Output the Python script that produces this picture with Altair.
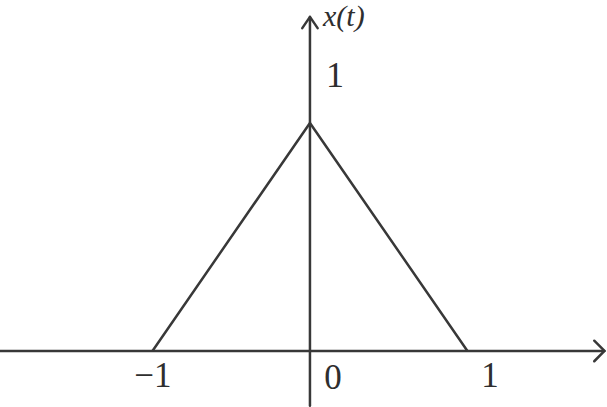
import altair as alt
import pandas as pd

# Triangle pulse x(t)
t_vals = [-1, 0, 1]
x_vals = [0, 1, 0]

# Axis extents (data units) and arrowhead size
t_axis = [-1.97, 1.87]
v_axis = [-0.24, 1.465]
head_dt = 0.065
head_dv = 0.045

# Tick labels along the t axis (text baseline positions) and the peak label
tick_text = ["\u22121", "0", "1"]
tick_t = [-0.997, 0.146, 1.143]
tick_v = [-0.158, -0.165, -0.158]

INK = "#383838"
TEXT_INK = "#2e2e2e"
SERIF = "Liberation Serif"
W, H = 607, 407
xs = alt.Scale(domain=[-1.968, 1.886], nice=False, zero=False)
ys = alt.Scale(domain=[-0.2456, 1.539], nice=False, zero=False)

def seg(rows):
    return pd.DataFrame(rows, columns=["t", "v", "g", "o"])

# axes with open arrowheads
axes = seg([
    (t_axis[0], 0, "h", 0), (t_axis[1], 0, "h", 1),
    (t_axis[1] - head_dt, head_dv, "hh", 0), (t_axis[1], 0, "hh", 1), (t_axis[1] - head_dt, -head_dv, "hh", 2),
    (0, v_axis[0], "v", 0), (0, v_axis[1], "v", 1),
    (-head_dt * 0.75, v_axis[1] - head_dv * 1.1, "vh", 0), (0, v_axis[1], "vh", 1), (head_dt * 0.75, v_axis[1] - head_dv * 1.1, "vh", 2),
])

enc = dict(
    x=alt.X("t:Q", scale=xs, axis=None),
    y=alt.Y("v:Q", scale=ys, axis=None),
)

axis_lines = alt.Chart(axes).mark_line(color=INK, strokeWidth=2.5, strokeCap="round", strokeJoin="round").encode(
    detail="g:N", order="o:Q", **enc
)

pulse = alt.Chart(pd.DataFrame({"t": t_vals, "v": x_vals})).mark_line(
    color=INK, strokeWidth=2.5, strokeJoin="miter"
).encode(**enc)

ticks = alt.Chart(pd.DataFrame({"t": tick_t, "v": tick_v, "s": tick_text})).mark_text(
    color=TEXT_INK, align="center", baseline="alphabetic", font=SERIF, fontSize=35
).encode(text="s:N", **enc)

peak = alt.Chart(pd.DataFrame({"t": [0.159], "v": [1.158], "s": ["1"]})).mark_text(
    color=TEXT_INK, align="center", baseline="alphabetic", font=SERIF, fontSize=36
).encode(text="s:N", **enc)

name = alt.Chart(pd.DataFrame({"t": [0.083], "v": [1.425], "s": ["x(t)"]})).mark_text(
    fontStyle="italic", color=TEXT_INK, align="left", baseline="alphabetic", font=SERIF, fontSize=30
).encode(text="s:N", **enc)

chart = alt.layer(axis_lines, pulse, ticks, peak, name).properties(
    width=W, height=H, padding=0, autosize=alt.AutoSizeParams(type="none"), background="white"
).configure_view(stroke=None)

chart.save("out.html", embed_options={"renderer": "svg", "actions": False})
